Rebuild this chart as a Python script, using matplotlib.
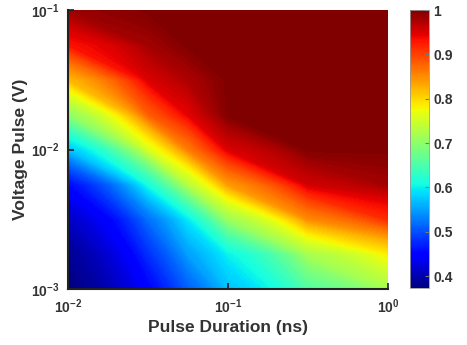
import numpy as np
import matplotlib
matplotlib.use('Agg')
import matplotlib.pyplot as plt
import matplotlib.ticker as mticker

# grid nodes (log spaced)
pulse_duration = [0.01, 0.0316, 0.0562, 0.1, 0.316, 1.0]          # ns
voltage_pulse = [1e-3, 1.78e-3, 3.16e-3, 5.62e-3, 1e-2,
                 1.78e-2, 3.16e-2, 5.62e-2, 1e-1]                   # V

# one row per voltage (bottom -> top), one column per duration
prob = [
    [0.373, 0.45, 0.51, 0.57, 0.655, 0.72],
    [0.385, 0.48, 0.55, 0.60, 0.72, 0.785],
    [0.41, 0.52, 0.595, 0.71, 0.85, 0.915],
    [0.455, 0.61, 0.73, 0.84, 0.955, 0.98],
    [0.57, 0.755, 0.86, 0.95, 1.0, 1.0],
    [0.70, 0.88, 0.945, 1.0, 1.0, 1.0],
    [0.82, 0.95, 0.975, 1.0, 1.0, 1.0],
    [0.93, 0.98, 1.0, 1.0, 1.0, 1.0],
    [0.985, 1.0, 1.0, 1.0, 1.0, 1.0],
]

cbar_ticks = [0.4, 0.5, 0.6, 0.7, 0.8, 0.9, 1.0]

plt.rcParams['font.family'] = ['Liberation Sans', 'DejaVu Sans']
plt.rcParams['font.weight'] = 'bold'
txt_color = '#333333'

fig = plt.figure(figsize=(4.67, 3.45), dpi=100)
ax = fig.add_axes([0.1456, 0.162, 0.6854, 0.809])
cax = fig.add_axes([0.878, 0.165, 0.0407, 0.806])

# filled contours with lots of levels, like matlab contourf
vmin, vmax = 0.373, 1.0
levels = np.linspace(vmin, vmax + 0.001, 150)
cf = ax.contourf(pulse_duration, voltage_pulse, np.array(prob), levels=levels,
                 cmap='jet', vmin=vmin, vmax=vmax, antialiased=False)
ax.set_xscale('log')
ax.set_yscale('log')
ax.set_xlim(1e-2, 1e0)
ax.set_ylim(1e-3, 1e-1)

# matlab-ish axes
ax.xaxis.set_major_locator(mticker.LogLocator(base=10, numticks=5))
ax.yaxis.set_major_locator(mticker.LogLocator(base=10, numticks=5))
ax.xaxis.set_minor_locator(mticker.NullLocator())
ax.yaxis.set_minor_locator(mticker.NullLocator())
ax.tick_params(direction='in', length=4, width=1.2, colors='#222222',
               labelcolor=txt_color, labelsize=10, pad=6)
for s in ['top', 'right']:
    ax.spines[s].set_visible(False)
for s in ['left', 'bottom']:
    ax.spines[s].set_color('#222222')
    ax.spines[s].set_linewidth(1.5)

ax.set_xlabel('Pulse Duration (ns)', fontsize=12.5, fontweight='bold', color=txt_color, labelpad=3)
ax.set_ylabel('Voltage Pulse (V)', fontsize=12.5, fontweight='bold', color=txt_color, labelpad=2)

sm = plt.cm.ScalarMappable(norm=plt.Normalize(vmin, vmax), cmap='jet')
cb = fig.colorbar(sm, cax=cax, ticks=cbar_ticks)
cb.ax.yaxis.set_major_formatter(mticker.FuncFormatter(lambda v, p: f'{v:g}'))
cb.ax.tick_params(direction='in', length=3, width=0.8, colors='#777777',
                  labelcolor=txt_color, labelsize=10, pad=3)
cb.outline.set_edgecolor('#999999')
cb.outline.set_linewidth(0.6)

fig.savefig('out.png', dpi=100)
